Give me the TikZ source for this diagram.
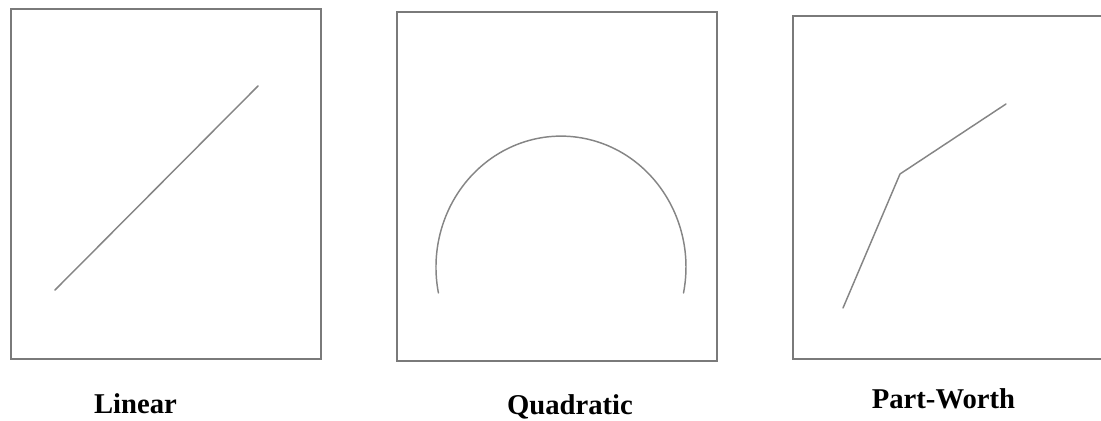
\documentclass[tikz,border=0pt]{standalone}
\usepackage{fontspec}
\setmainfont{Liberation Serif}
\usetikzlibrary{positioning}
\definecolor{frame}{HTML}{7A7A7A}
\definecolor{curve}{HTML}{858585}
\tikzset{panel/.style={draw=frame, line width=1.5pt}, util/.style={draw=curve, line width=1.1pt, line cap=round, line join=round}, capt/.style={font=\fontsize{21.5}{26}\selectfont\bfseries, text=black, inner sep=0pt, anchor=base}}

\begin{document}
\begin{tikzpicture}[x=0.75pt,y=0.75pt]
\useasboundingbox (0,0) rectangle (1101,421); \clip (0,0) rectangle (1101,421);
\draw[panel] (11,62) rectangle (321,412); \draw[panel] (397,60) rectangle (717,409); \draw[panel] (793,62) rectangle (1106,405);
\coordinate (la) at (55,131); \coordinate (lb) at (258,335);
\draw[util] (la)--(lb);
\draw[util] (683.5,128) arc[start angle=-11.4, end angle=191.4, x radius=125, y radius=131];
\coordinate (pa) at (843,113); \coordinate (pk) at (900,247); \coordinate (pb) at (1006,317);
\draw[util] (pa)--(pk)--(pb);
\node[capt] (linear) at (135.5,7) {Linear}; \node[capt] (quad) at (570,6) {Quadratic}; \node[capt] (pw) at (943.5,12) {Part-Worth};
\end{tikzpicture}
\end{document}
